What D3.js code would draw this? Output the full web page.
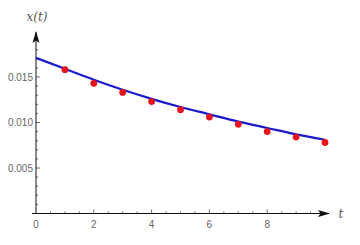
<!DOCTYPE html>
<meta charset="utf-8">
<head>
  <style>
    body { margin: 0; background: #fff; }
    .tick-label { fill: #666; font: 10px "Liberation Sans", Arial, sans-serif; }
    .ax-label { fill: #555; font: italic 12px "DejaVu Serif", serif; }
  </style>
  <script src="https://cdn.jsdelivr.net/npm/d3@7"></script>
</head>
<body>
  <div id="viz"></div>
</body>
<script>
// measured points
var times = [1, 2, 3, 4, 5, 6, 7, 8, 9, 10];
var values = [0.0158, 0.0143, 0.0133, 0.0123, 0.0114, 0.0106, 0.0098, 0.0090, 0.0084, 0.0078];
// fitted curve
var curveT = [0, 1, 2, 3, 4, 5, 6, 7, 8, 9, 10];
var curveX = [0.0171, 0.0159, 0.0147, 0.0136, 0.0126, 0.0117, 0.0109, 0.0101, 0.0094, 0.0087, 0.0081];
var xTicks = [0, 2, 4, 6, 8];
var yTicks = [0.005, 0.010, 0.015];

var W = 360, H = 245;
var svg = d3.select("#viz").append("svg")
  .attr("width", W).attr("height", H);

var x = d3.scaleLinear().domain([0, 10]).range([36, 325]);
var y = d3.scaleLinear().domain([0, 0.015]).range([213.5, 77]);

var defs = svg.append("defs");
defs.append("marker")
    .attr("id", "arr")
    .attr("viewBox", "0 0 12 8")
    .attr("refX", 11).attr("refY", 4)
    .attr("markerWidth", 12).attr("markerHeight", 8)
    .attr("markerUnits", "userSpaceOnUse")
    .attr("orient", "auto")
  .append("path")
    .attr("d", "M0,0.5 L12,4 L0,7.5 L2.5,4 Z")
    .attr("fill", "#111");

/* minor + major ticks, drawn inward like Mathematica */
var xMinor = d3.range(0.5, 10, 0.5);
svg.selectAll(".xmin").data(xMinor).enter().append("line")
    .attr("x1", function(d) { return x(d); })
    .attr("x2", function(d) { return x(d); })
    .attr("y1", y(0)).attr("y2", function(d) { return y(0) - (d % 2 === 0 ? 4 : 2); })
    .attr("stroke", "#444").attr("stroke-width", 0.8);

var yMinor = d3.range(1, 19).map(function(i) { return i * 0.001; });
svg.selectAll(".ymin").data(yMinor).enter().append("line")
    .attr("y1", function(d) { return y(d); })
    .attr("y2", function(d) { return y(d); })
    .attr("x1", x(0)).attr("x2", function(d, i) { return x(0) + ((i + 1) % 5 === 0 ? 4 : 2); })
    .attr("stroke", "#444").attr("stroke-width", 0.8);

// axes
svg.append("line")
    .attr("x1", x(0) - 4).attr("y1", y(0))
    .attr("x2", 329).attr("y2", y(0))
    .attr("stroke", "#111").attr("stroke-width", 1)
    .attr("marker-end", "url(#arr)");
svg.append("line")
    .attr("x1", x(0)).attr("y1", y(0))
    .attr("x2", x(0)).attr("y2", 32)
    .attr("stroke", "#111").attr("stroke-width", 1)
    .attr("marker-end", "url(#arr)");

svg.selectAll(".xl").data(xTicks).enter().append("text")
    .attr("class", "tick-label")
    .attr("x", function(d) { return x(d); })
    .attr("y", y(0) + 14)
    .attr("text-anchor", "middle")
    .text(function(d) { return d; });

svg.selectAll(".yl").data(yTicks).enter().append("text")
    .attr("class", "tick-label")
    .attr("x", x(0) - 3)
    .attr("y", function(d) { return y(d) + 3.5; })
    .attr("text-anchor", "end")
    .text(d3.format(".3f"));

svg.append("text").attr("class", "ax-label")
    .attr("x", 37).attr("y", 21)
    .attr("text-anchor", "middle")
    .text("x(t)");
svg.append("text").attr("class", "ax-label")
    .attr("x", 341).attr("y", 218)
    .attr("text-anchor", "middle")
    .text("t");

// fitted curve
var line = d3.line()
    .x(function(d, i) { return x(curveT[i]); })
    .y(function(d) { return y(d); })
    .curve(d3.curveNatural);
svg.append("path")
    .datum(curveX)
    .attr("d", line)
    .attr("fill", "none")
    .attr("stroke", "#1a1acc")
    .attr("stroke-width", 2.2);

// data points
svg.selectAll(".pt").data(values).enter().append("circle")
    .attr("cx", function(d, i) { return x(times[i]); })
    .attr("cy", function(d) { return y(d); })
    .attr("r", 3.4)
    .attr("fill", "#e8141b");
</script>
